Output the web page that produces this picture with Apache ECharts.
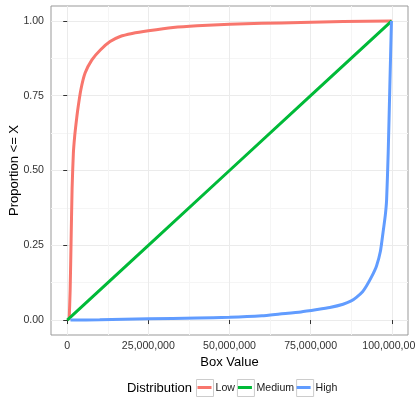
<!DOCTYPE html>
<html>
<head>
<meta charset="utf-8">
<script src="https://cdn.jsdelivr.net/npm/echarts@6/dist/echarts.min.js"></script>
<style>
  html, body { margin: 0; padding: 0; background: #fff; }
  #chart { width: 415px; height: 415px; }
</style>
</head>
<body>
<div id="chart"></div>
<script>
// box value in millions, cumulative proportion
const lowX = [0.6, 0.9, 1.2, 1.5, 1.9, 2.3, 2.7, 3.2, 4.2, 5.5, 7.6, 10.2, 13.2, 16.3, 20, 25, 32.6, 40, 50, 60, 72, 85, 100]
const lowY = [0, 0.10, 0.27, 0.44, 0.56, 0.615, 0.655, 0.70, 0.77, 0.826, 0.87, 0.903, 0.931, 0.948, 0.958, 0.967, 0.978, 0.984, 0.989, 0.992, 0.995, 0.998, 1.0]

const mediumX = [0, 25, 50, 75, 100]
const mediumY = [0, 0.25, 0.5, 0.75, 1.0]

const highX = [1.0, 10, 25, 40, 50, 60, 65.5, 72, 77, 80.9, 85, 87.5, 89.1, 91, 92.2, 93.8, 95.3, 96.5, 97.3, 98.0, 98.4, 98.9, 99.4, 99.9]
const highY = [0, 0.001, 0.004, 0.007, 0.009, 0.014, 0.02, 0.027, 0.035, 0.042, 0.053, 0.064, 0.076, 0.095, 0.114, 0.145, 0.181, 0.23, 0.292, 0.35, 0.40, 0.56, 0.78, 1.0]

const seriesNames = ['Low', 'Medium', 'High']
const seriesColors = ['#F8766D', '#00BA38', '#619CFF']

const xTicks = [0, 25, 50, 75, 100]
const xMinor = [12.5, 37.5, 62.5, 87.5]
const yTicks = [0, 0.25, 0.5, 0.75, 1]
const yMinor = [0.125, 0.375, 0.625, 0.875]

const FONT = 'Liberation Sans, Arial, sans-serif'
const zip = (xs, ys) => xs.map((x, i) => [x, ys[i]])

const chart = echarts.init(document.getElementById('chart'), null, { renderer: 'canvas' })

const majorLine = { show: true, lineStyle: { color: '#EBEBEB', width: 1 } }
const minorLine = { show: true, lineStyle: { color: '#F5F5F5', width: 1 } }

// legend key: thin bar in the middle, tiny corner specks keep the 17x17 box
const keyIcon = 'path://M0,0L0.01,0L0.01,0.01Z M1.5,7L15.5,7L15.5,10L1.5,10Z M16.99,16.99L17,17L16.99,17Z'

const legendBase = {
  orient: 'horizontal',
  left: 196,
  top: 379,
  padding: 0,
  itemGap: 2,
  itemWidth: 17,
  itemHeight: 17,
  selectedMode: false,
  data: seriesNames
}

chart.setOption({
  animation: false,
  backgroundColor: '#fff',
  grid: {
    left: 51, right: 7, top: 6, bottom: 80,
    outerBoundsMode: 'none',
    containLabel: false,
    show: true,
    borderColor: '#999',
    borderWidth: 1,
    backgroundColor: '#fff'
  },
  legend: [
    Object.assign({}, legendBase, {
      icon: 'rect',
      itemStyle: { color: '#fff', borderColor: '#CCCCCC', borderWidth: 1 },
      textStyle: { fontFamily: FONT, fontSize: 10.6, color: '#1a1a1a', padding: [0, 0, 0, -3] }
    }),
    Object.assign({}, legendBase, {
      icon: keyIcon,
      itemStyle: { borderWidth: 0 },
      textStyle: { fontFamily: FONT, fontSize: 10.6, color: 'rgba(0,0,0,0)', padding: [0, 0, 0, -3] }
    })
  ],
  graphic: [{
    type: 'text',
    x: 192,
    y: 388,
    style: {
      text: 'Distribution',
      font: '13px ' + FONT,
      fill: '#000',
      textAlign: 'right',
      textVerticalAlign: 'middle'
    }
  }],
  xAxis: [{
    type: 'value',
    min: -5,
    max: 105,
    name: 'Box Value',
    nameLocation: 'middle',
    nameGap: 21,
    nameMoveOverlap: false,
    nameTextStyle: { fontFamily: FONT, fontSize: 13, color: '#000', verticalAlign: 'top' },
    axisLine: { show: false },
    axisTick: { show: true, inside: false, length: 4, customValues: xTicks, lineStyle: { color: '#333' } },
    axisLabel: {
      customValues: xTicks,
      margin: 6,
      fontFamily: FONT,
      fontSize: 10.6,
      color: '#333',
      formatter: v => (v * 1e6).toLocaleString('en-US')
    },
    splitLine: majorLine
  }, {
    type: 'value',
    min: -5,
    max: 105,
    position: 'bottom',
    axisLine: { show: false },
    axisTick: { show: false, customValues: xMinor },
    axisLabel: { show: false, customValues: xMinor },
    splitLine: minorLine
  }],
  yAxis: [{
    type: 'value',
    min: -0.05,
    max: 1.05,
    name: 'Proportion <= X',
    nameLocation: 'middle',
    nameGap: 30,
    nameMoveOverlap: false,
    nameTextStyle: { fontFamily: FONT, fontSize: 13, color: '#000' },
    axisLine: { show: false },
    axisTick: { show: true, inside: false, length: 4, customValues: yTicks, lineStyle: { color: '#333' } },
    axisLabel: {
      customValues: yTicks,
      margin: 7,
      fontFamily: FONT,
      fontSize: 10.6,
      color: '#333',
      formatter: v => v.toFixed(2)
    },
    splitLine: majorLine
  }, {
    type: 'value',
    min: -0.05,
    max: 1.05,
    position: 'left',
    axisLine: { show: false },
    axisTick: { show: false, customValues: yMinor },
    axisLabel: { show: false, customValues: yMinor },
    splitLine: minorLine
  }],
  series: [
    [lowX, lowY], [mediumX, mediumY], [highX, highY]
  ].map(([xs, ys], i) => ({
    name: seriesNames[i],
    type: 'line',
    xAxisIndex: 0,
    yAxisIndex: 0,
    data: zip(xs, ys),
    showSymbol: false,
    smooth: i === 1 ? false : 0.2,
    color: seriesColors[i],
    lineStyle: { color: seriesColors[i], width: 3 },
    z: 3 + i
  }))
})
</script>
</body>
</html>
